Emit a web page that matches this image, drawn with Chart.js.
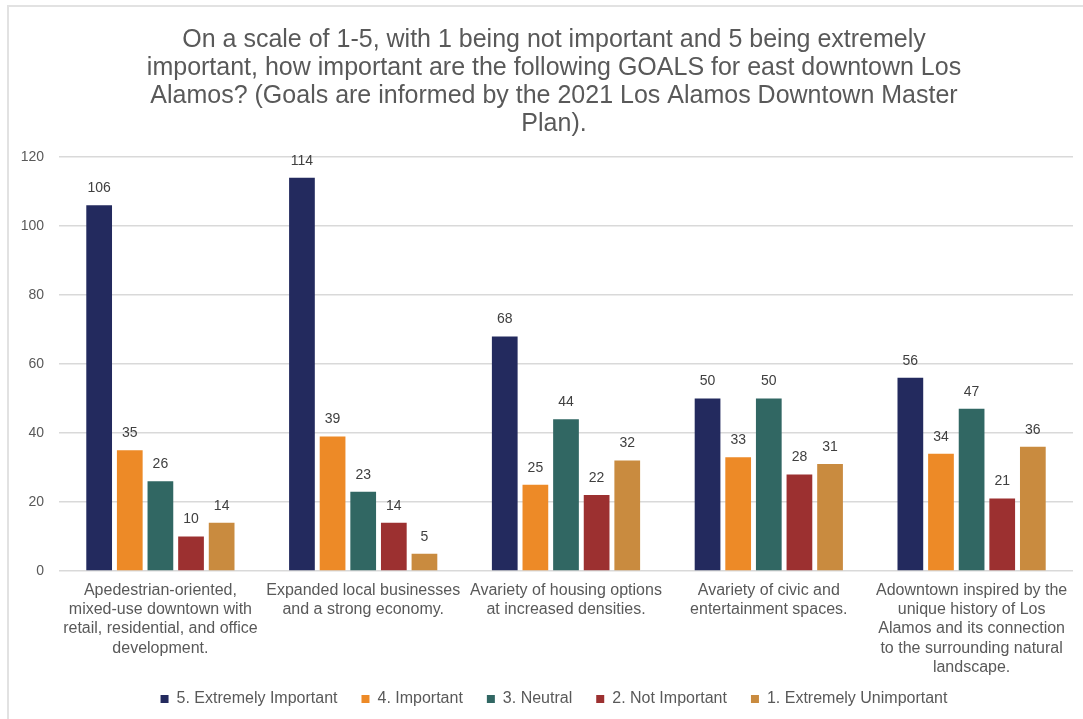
<!DOCTYPE html>
<html>
<head>
<meta charset="utf-8">
<script src="https://cdn.jsdelivr.net/npm/chart.js@4.4.0/dist/chart.umd.min.js"></script>
<style>
  html, body { margin: 0; padding: 0; background: #fff; overflow: hidden; }
  #frame {
    position: absolute; left: 7px; top: 5px; width: 1100px; height: 730px;
    border-left: 2px solid #e2e2e2; border-top: 2px solid #e2e2e2;
  }
  #goalsChart { position: absolute; left: 0; top: 0; }
</style>
</head>
<body>
<div id="frame"></div>
<canvas id="goalsChart" width="1083" height="719"></canvas>
<script>
// survey goals (x axis) and answer counts per rating
const goals = [
  ['Apedestrian-oriented,', 'mixed-use downtown with', 'retail, residential, and office', 'development.'],
  ['Expanded local businesses', 'and a strong economy.'],
  ['Avariety of housing options', 'at increased densities.'],
  ['Avariety of civic and', 'entertainment spaces.'],
  ['Adowntown inspired by the', 'unique history of Los', 'Alamos and its connection', 'to the surrounding natural', 'landscape.']
];
const ratings = ['5. Extremely Important', '4. Important', '3. Neutral', '2. Not Important', '1. Extremely Unimportant'];
const extremelyImportant = [106, 114, 68, 50, 56];
const important = [35, 39, 25, 33, 34];
const neutral = [26, 23, 44, 50, 47];
const notImportant = [10, 14, 22, 28, 21];
const extremelyUnimportant = [14, 5, 32, 31, 36];
const yTicks = [0, 20, 40, 60, 80, 100, 120];

const colors = ['#232a5e', '#ed8a27', '#316763', '#9c3030', '#c98b3f'];
const series = [extremelyImportant, important, neutral, notImportant, extremelyUnimportant];

const font = "'Liberation Sans', Arial, sans-serif";

// numbers above every bar
const valueLabels = {
  id: 'valueLabels',
  afterDatasetsDraw(chart) {
    const ctx = chart.ctx;
    ctx.save();
    ctx.font = '14px ' + font;
    ctx.fillStyle = '#404040';
    ctx.textAlign = 'center';
    ctx.textBaseline = 'middle';
    chart.data.datasets.forEach((ds, i) => {
      chart.getDatasetMeta(i).data.forEach((bar, j) => {
        ctx.fillText(ds.data[j], bar.x, bar.y - 17);
      });
    });
    ctx.restore();
  }
};

// axis boxes are kept tight so the title and legend stay centred on the frame;
// stretch their label clip areas so tick text is not cut off
const labelRoom = {
  id: 'labelRoom',
  afterLayout(chart) {
    chart.scales.y.left = 10;
    chart.scales.x.bottom = chart.height;
  }
};

new Chart(document.getElementById('goalsChart'), {
  type: 'bar',
  data: {
    labels: goals,
    datasets: ratings.map((r, i) => ({
      label: r,
      data: series[i],
      backgroundColor: colors[i],
      borderWidth: 0,
      barPercentage: 0.84,
      categoryPercentage: 0.755
    }))
  },
  options: {
    responsive: false,
    animation: false,
    layout: { padding: { left: 35, right: 10, top: 12, bottom: 2 } },
    plugins: {
      title: {
        display: true,
        text: [
          'On a scale of 1-5, with 1 being not important and 5 being extremely',
          'important, how important are the following GOALS for east downtown Los',
          'Alamos? (Goals are informed by the 2021 Los Alamos Downtown Master',
          'Plan).'
        ],
        color: '#595959',
        font: { family: font, size: 25, weight: 'normal', lineHeight: 1.12 },
        padding: { top: 14, bottom: 19 }
      },
      legend: {
        position: 'bottom',
        labels: {
          color: '#595959',
          font: { family: font, size: 16 },
          boxWidth: 8,
          boxHeight: 8,
          padding: 24
        }
      },
      tooltip: { enabled: false }
    },
    scales: {
      x: {
        grid: { display: false, drawTicks: false },
        border: { display: false },
        afterFit(axis) { axis.height = 96; },
        ticks: {
          color: '#595959',
          font: { family: font, size: 16, lineHeight: 1.2 },
          maxRotation: 0,
          autoSkip: false,
          padding: 10
        }
      },
      y: {
        min: 0,
        max: 120,
        afterBuildTicks(axis) { axis.ticks = yTicks.map(v => ({ value: v })); },
        afterFit(axis) { axis.width = 24; },
        grid: { color: '#d9d9d9', lineWidth: 1.5, drawTicks: false },
        border: { display: false },
        ticks: {
          color: '#595959',
          font: { family: font, size: 14 },
          padding: 15
        }
      }
    }
  },
  plugins: [valueLabels, labelRoom]
});
</script>
</body>
</html>
